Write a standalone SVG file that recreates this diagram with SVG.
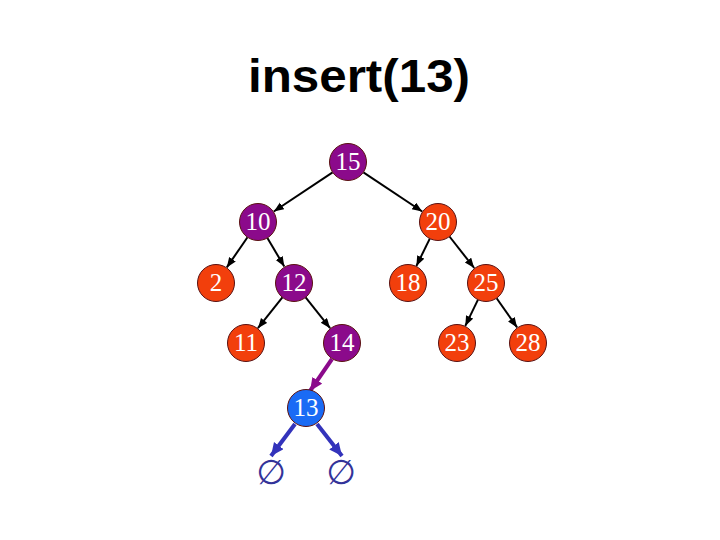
<svg xmlns="http://www.w3.org/2000/svg" width="720" height="540" viewBox="0 0 720 540">
<defs>
<marker id="ab" markerUnits="userSpaceOnUse" markerWidth="12" markerHeight="10" refX="10" refY="4" orient="auto"><path d="M0,0 L10,4 L0,8 Z" fill="#000"/></marker>
<marker id="ap" markerUnits="userSpaceOnUse" markerWidth="16" markerHeight="14" refX="13" refY="6" orient="auto"><path d="M0,0 L13,6 L0,12 Z" fill="#8B0A8B"/></marker>
<marker id="ablue" markerUnits="userSpaceOnUse" markerWidth="16" markerHeight="14" refX="13" refY="6" orient="auto"><path d="M0,0 L13,6 L0,12 Z" fill="#3333BB"/></marker>
</defs>
<style>
.title{font-family:"Liberation Sans",Arial,sans-serif;font-weight:bold;font-size:46px;fill:#000}
.n circle{stroke:#5a1010;stroke-width:1}
.p{fill:#8B0A8B}
.r{fill:#F23F0C}
.b{fill:#1A6BF5}
.n text{font-family:"Liberation Serif","Times New Roman",serif;font-size:25px;fill:#fff;text-anchor:middle}
.e{stroke:#000;stroke-width:2;fill:none;marker-end:url(#ab)}
.ep{stroke:#8B0A8B;stroke-width:4;fill:none;marker-end:url(#ap)}
.eb{stroke:#3333BB;stroke-width:4;fill:none;marker-end:url(#ablue)}
.nil{font-family:"DejaVu Serif","DejaVu Sans",serif;font-size:34px;fill:#333399;text-anchor:middle}
</style>
<rect width="720" height="540" fill="#fff"/>
<text class="title" x="359" y="92" text-anchor="middle" textLength="222" lengthAdjust="spacingAndGlyphs">insert(13)</text>
<g id="edges">
<line class="e" x1="332.6" y1="172.3" x2="273.8" y2="211.5"/>
<line class="e" x1="363.4" y1="172.3" x2="422.2" y2="211.5"/>
<line class="e" x1="247.5" y1="237.2" x2="226.8" y2="267.4"/>
<line class="e" x1="267.4" y1="237.9" x2="284.3" y2="266.6"/>
<line class="e" x1="429.8" y1="238.6" x2="416.4" y2="266"/>
<line class="e" x1="449.5" y1="236.5" x2="474.2" y2="268"/>
<line class="e" x1="282.4" y1="297.4" x2="257.9" y2="328.2"/>
<line class="e" x1="305.6" y1="297.4" x2="330.1" y2="328.2"/>
<line class="e" x1="478" y1="299.6" x2="465.3" y2="325.9"/>
<line class="e" x1="496.6" y1="298.2" x2="517.1" y2="327.4"/>
<line class="ep" x1="332" y1="359" x2="310" y2="391"/>
<line class="eb" x1="295" y1="424" x2="271" y2="456"/>
<line class="eb" x1="317" y1="424" x2="342" y2="456"/>
</g>
<g id="n15" class="n"><circle class="p" cx="348" cy="162" r="18.5"/><text x="348" y="170">15</text></g>
<g id="n10" class="n"><circle class="p" cx="258" cy="222" r="18.5"/><text x="258" y="230">10</text></g>
<g id="n20" class="n"><circle class="r" cx="438" cy="222" r="18.5"/><text x="438" y="230">20</text></g>
<g id="n2" class="n"><circle class="r" cx="216" cy="283" r="18.5"/><text x="216" y="291">2</text></g>
<g id="n12" class="n"><circle class="p" cx="294" cy="283" r="18.5"/><text x="294" y="291">12</text></g>
<g id="n18" class="n"><circle class="r" cx="408" cy="283" r="18.5"/><text x="408" y="291">18</text></g>
<g id="n25" class="n"><circle class="r" cx="486" cy="283" r="18.5"/><text x="486" y="291">25</text></g>
<g id="n11" class="n"><circle class="r" cx="246" cy="343" r="18.5"/><text x="246" y="351">11</text></g>
<g id="n14" class="n"><circle class="p" cx="342" cy="343" r="18.5"/><text x="342" y="351">14</text></g>
<g id="n23" class="n"><circle class="r" cx="457" cy="343" r="18.5"/><text x="457" y="351">23</text></g>
<g id="n28" class="n"><circle class="r" cx="528" cy="343" r="18.5"/><text x="528" y="351">28</text></g>
<g id="n13" class="n"><circle class="b" cx="306" cy="408" r="18.5"/><text x="306" y="416">13</text></g>
<g id="nil1"><text class="nil" x="271" y="484">∅</text></g>
<g id="nil2"><text class="nil" x="341" y="484">∅</text></g>
</svg>
